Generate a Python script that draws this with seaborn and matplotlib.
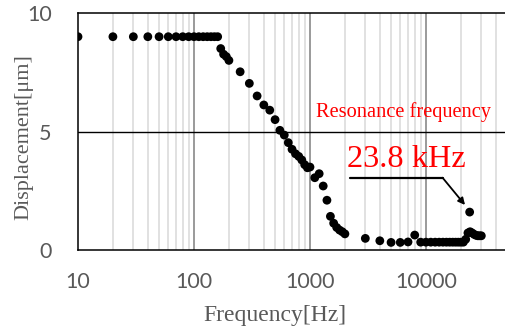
"""Frequency response of the displacement, with the resonance peak marked."""

import matplotlib

matplotlib.use("Agg")
import matplotlib.pyplot as plt
import pandas as pd
import seaborn as sns
from matplotlib.ticker import FixedLocator, NullFormatter

# measured points
freq_low = [10, 20, 30, 40, 50, 60, 70, 80, 90, 100, 110, 120, 130, 140, 150, 160]
disp_low = [9.0] * len(freq_low)

freq_drop = [170, 180, 190, 200, 250, 300, 350, 400, 450, 500, 550, 600, 650,
             700, 750, 800, 850, 900, 950, 1000, 1100, 1200, 1300, 1400, 1500,
             1600, 1700, 1800, 1900, 2000]
disp_drop = [8.5, 8.26, 8.16, 8.0, 7.52, 7.03, 6.5, 6.12, 5.9, 5.5, 5.05, 4.85,
             4.53, 4.25, 4.06, 3.95, 3.8, 3.6, 3.47, 3.5, 3.05, 3.22, 2.7, 2.1,
             1.42, 1.13, 0.95, 0.84, 0.77, 0.68]

freq_high = [3000, 4000, 5000, 6000, 7000, 8000, 9000, 10000, 11000, 12000,
             13000, 14000, 15000, 16000, 17000, 18000, 19000, 20000, 21000,
             22000, 23000, 23800, 24000, 25000, 26000, 27000, 28000, 29000, 30000]
disp_high = [0.49, 0.39, 0.32, 0.32, 0.34, 0.63, 0.33, 0.33, 0.33, 0.33,
             0.33, 0.33, 0.33, 0.33, 0.33, 0.33, 0.33, 0.33, 0.33,
             0.45, 0.72, 1.6, 0.77, 0.72, 0.66, 0.62, 0.6, 0.6, 0.6]

x_ticks = [10, 100, 1000, 10000]
x_tick_labels = ["10", "100", "1000", "10000"]
y_ticks = [0, 5, 10]

df = pd.DataFrame(
    {
        "freq": freq_low + freq_drop + freq_high,
        "disp": disp_low + disp_drop + disp_high,
    }
)

sns.set_style("white")
plt.rcParams["font.family"] = ["Lato", "DejaVu Sans"]

fig = plt.figure(figsize=(5.05, 3.26), dpi=100)
ax = fig.add_axes([78 / 505, 76 / 326, 427 / 505, 237 / 326])

ax.set_xscale("log")
ax.set_xlim(10, 48000)
ax.set_ylim(0, 10)

# gridlines like the spreadsheet chart
minor = [m * 10**e for e in range(1, 5) for m in range(2, 10)]
ax.xaxis.set_minor_locator(FixedLocator(minor))
ax.xaxis.set_minor_formatter(NullFormatter())
ax.grid(which="minor", axis="x", color="#d9d9d9", linewidth=1.1, zorder=0)
for xt in x_ticks[1:]:
    ax.axvline(xt, color="#7f7f7f", linewidth=1.1, zorder=1)
ax.axhline(5, color="black", linewidth=1.0, zorder=1)

sns.scatterplot(
    data=df, x="freq", y="disp", ax=ax, color="black", s=40,
    edgecolor="none", zorder=3, legend=False,
)

ax.set_xticks(x_ticks)
ax.set_xticklabels(x_tick_labels)
ax.set_yticks(y_ticks)
ax.tick_params(axis="both", which="both", length=0, labelsize=15.5,
               labelcolor="#595959")
ax.tick_params(axis="x", pad=16)
ax.tick_params(axis="y", pad=19)

for side in ["left", "bottom", "top"]:
    ax.spines[side].set_color("black")
    ax.spines[side].set_linewidth(1.1)
ax.spines["right"].set_visible(False)

serif = ["Liberation Serif", "DejaVu Serif"]
ax.set_xlabel("Frequency[Hz]", fontsize=17, color="#595959", family=serif)
ax.set_ylabel("Displacement[μm]", fontsize=16, color="#595959", family=serif)
ax.xaxis.set_label_coords(0.461, -0.23)
ax.yaxis.set_label_coords(-0.105, 0.477)

# annotation for the resonance
ax.text(1127, 5.82, "Resonance frequency", color="red", fontsize=14.7,
        family=serif, ha="left", va="center")
ax.text(2070, 3.5, "23.8 kHz", color="red", fontsize=23.3, family=serif,
        ha="left", va="baseline")
ax.plot([2213, 13900], [3.05, 3.05], color="black", linewidth=1.6, zorder=4)
ax.annotate(
    "", xy=(21700, 1.9), xytext=(13900, 3.05),
    arrowprops=dict(arrowstyle="-|>", color="black", lw=1.3,
                    mutation_scale=10, shrinkA=0, shrinkB=0),
    zorder=4,
)

fig.savefig("out.png", dpi=100)
